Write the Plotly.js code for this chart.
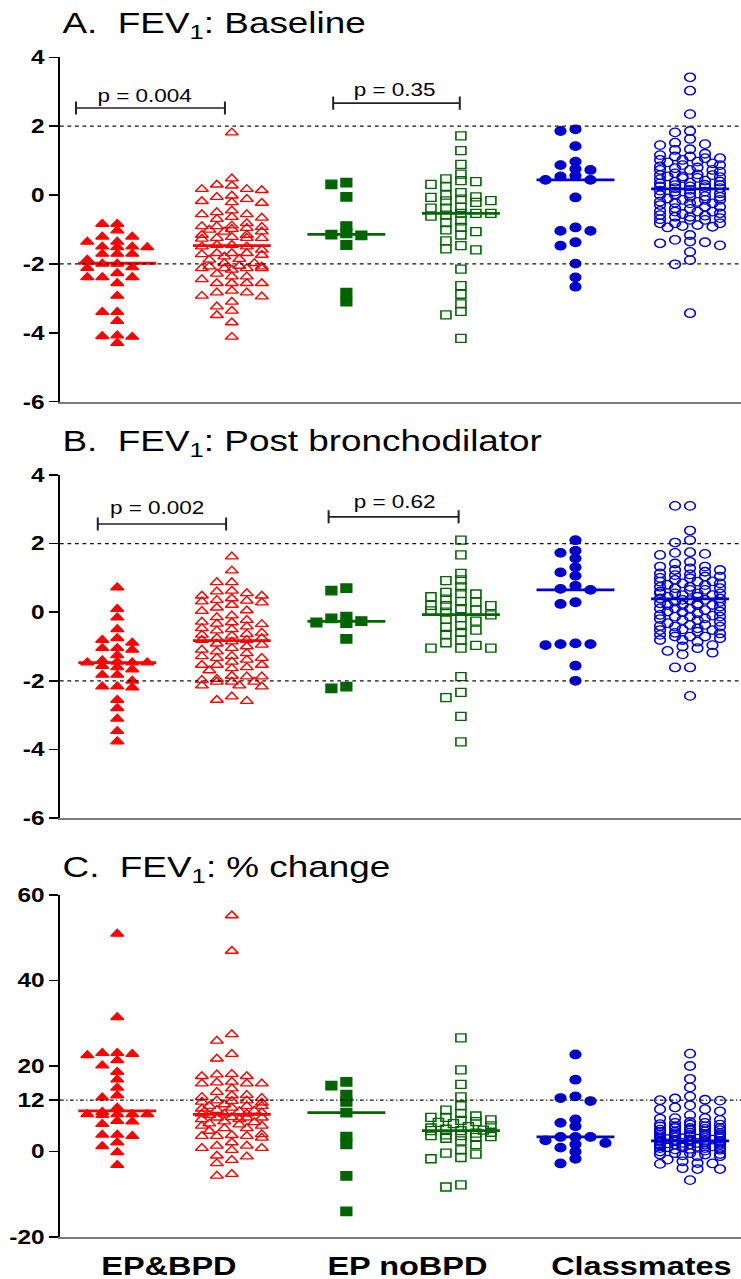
<!DOCTYPE html>
<html><head><meta charset="utf-8">
<script src="https://cdn.plot.ly/plotly-3.0.1.min.js"></script>
<style>
html,body{margin:0;padding:0;background:#fff;overflow:hidden;}
#chart{width:593px;height:1279px;transform:scaleX(1.2496);transform-origin:0 0;}
</style></head><body><div id="chart"></div>
<script>
// ---------------- DATA ----------------
const categories = ['EP&BPD', 'EP noBPD', 'Classmates'];
const panelTitles = ['A.  FEV<sub>1</sub>: Baseline', 'B.  FEV<sub>1</sub>: Post bronchodilator', 'C.  FEV<sub>1</sub>: % change'];
const tickValsAB = [-6, -4, -2, 0, 2, 4];
const tickTextAB = ['-6', '-4', '-2', '0', '2', '4'];
const tickValsC = [-20, 0, 12, 20, 40, 60];
const tickTextC = ['-20', '0', '12', '20', '40', '60'];

// Panel A: baseline z-scores
const baseBpdFilled = [-0.84,-0.84,-1.03,-1.21,-1.21,-1.36,-1.36,-1.52,-1.5,-1.5,-1.52,-1.71,-1.71,-1.71,-1.88,-2.0,-2.0,-2.12,-2.1,-2.27,-2.39,-2.39,-2.39,-2.56,-2.93,-3.4,-3.4,-3.66,-4.1,-4.12,-4.08,-4.3];
const baseBpdOpen = [0.27,-0.06,-0.56,-0.96,-1.27,-1.69,-2.13,-2.45,-2.83,
  -0.82,-1.07,-1.45,-2.06,-2.29,
  0.17,-0.18,-0.66,-1.01,-1.25,-1.69,-2.08,-2.56,-2.93,-3.1,-3.49,
  -0.5,-0.93,-1.25,-1.5,-1.88,-2.13,-2.37,
  1.81,0.48,0.14,-0.23,-0.70,-0.89,-1.16,-1.45,-1.69,-1.79,-1.98,-2.17,-2.56,-2.95,-3.36,-3.7,-4.12,
  -0.02,-0.45,-0.91,-1.16,-1.59,-1.86,-2.08,
  0.17,-0.21,-0.64,-1.06,-1.25,-1.74,-2.13,-2.56,-2.83,-3.24,
  -0.91,-1.5,-1.98,-2.37,
  0.3,-0.12,-0.56,-0.99,-1.22,-1.72,-2.13,-2.56,-2.78];
const baseNoBpdFilled = [0.31,0.36,-0.05,-0.9,-1.17,-1.11,-1.15,-1.45,-2.83,-3.09];
const baseNoBpdOpen = [1.72,1.29,0.89,0.61,0.42,0.47,0.31,0.25,0.39,0.0,0.07,-0.16,-0.12,-0.07,-0.05,-0.17,-0.21,-0.38,-0.38,-0.36,-0.53,-0.61,-0.53,-0.53,-0.58,-0.8,-0.75,-0.94,-1.06,-1.01,-1.16,-1.33,-1.47,-1.59,-1.56,-2.15,-2.63,-2.88,-3.16,-3.38,-3.48,-4.16];
const baseClassFilled = [1.86,1.91,1.42,0.97,0.76,0.87,0.73,0.56,0.44,0.44,0.54,-0.07,-1.04,-1.04,-0.94,-1.47,-1.37,-1.99,-2.39,-2.66];
const baseClassOpen = [1.63,0.87,0.54,0.39,0.23,-0.03,-0.19,-0.53,-0.63,-0.94,-1.35,
  1.07,0.73,0.49,0.13,-0.1,-0.34,-0.82,
  1.48,1.31,1.02,0.63,0.34,0.0,-0.24,-0.46,-0.72,-1.16,-1.4,-1.89,
  1.12,0.83,0.58,0.29,0.05,-0.14,-0.38,-0.63,-0.9,
  3.42,3.03,2.35,1.82,1.45,1.12,0.92,0.73,0.54,0.36,0.2,0.05,-0.14,-0.34,-0.55,-0.82,-1.3,-1.65,-2.01,-3.43,
  1.02,0.78,0.52,0.25,0.0,-0.24,-0.48,-0.87,
  1.86,1.52,1.16,0.87,0.58,0.29,-0.05,-0.29,-0.58,-0.82,-1.46,
  1.07,0.68,0.39,0.1,-0.14,-0.48,-0.72,
  1.33,0.97,0.73,0.46,0.2,-0.22,-0.48,-0.67,-0.92,-1.37,
  0.15,0.3,0.42,-0.05,0.6,0.8,0.95,-0.4,-0.7,0.1,0.25,0.5,-0.2,-0.6,1.2];
const medBaseline = [-1.98, -1.47, -1.14, -0.53, 0.44, 0.18];

// Panel B: post bronchodilator z-scores
const postBpdFilled = [0.72,0.09,-0.16,-0.5,-0.81,-0.76,-0.89,-1.05,-1.1,-1.05,-1.26,-1.45,-1.47,-1.47,-1.47,-1.41,-1.57,-1.67,-1.61,-1.83,-1.83,-2.0,-2.17,-2.2,-2.17,-2.56,-2.8,-3.11,-3.47,-3.77];
const postBpdOpen = [1.62,1.21,0.87,0.87,0.48,0.62,0.48,0.55,0.6,0.21,0.35,0.31,0.33,0.28,0.03,0.13,-0.3,-0.23,-0.28,-0.15,-0.34,-0.5,-0.47,-0.42,-0.66,-0.69,-0.64,-0.54,-0.76,-0.86,-0.81,-0.81,-0.76,-1.05,-1.1,-1.0,-0.92,-1.34,-1.39,-1.29,-1.34,-1.28,-1.61,-1.54,-1.54,-1.54,-1.64,-1.88,-1.86,-1.88,-2.03,-1.98,-2.03,-1.95,-2.03,-2.14,-2.17,-2.14,-2.46,-2.59,-2.56,
  -0.6,-0.95,-1.2,-1.45,-0.1,0.05,-1.7,-0.35,-1.15,0.4];
const postNoBpdFilled = [0.70,0.63,-0.18,-0.32,-0.26,-0.13,-0.78,-2.22,-2.17,-0.3];
const postNoBpdOpen = [2.1,1.67,1.13,0.94,0.92,0.74,0.58,0.53,0.55,0.38,0.45,0.31,0.2,0.19,0.19,0.04,0.06,-0.16,-0.08,-0.26,-0.39,-0.52,-0.59,-0.44,-0.81,-0.89,-1.05,-1.05,-1.05,-0.97,-1.88,-2.34,-2.49,-3.04,-3.78,0.0,-0.2,0.3,-0.65,0.1];
const postClassFilled = [2.1,1.79,1.73,1.57,1.31,1.16,1.06,0.77,0.65,0.68,0.29,0.24,-0.93,-0.96,-0.93,-0.91,-1.56,-2.0];
const postClassOpen = [1.33,0.84,0.55,0.26,-0.03,-0.37,-0.71,-1.0,
  1.42,1.04,0.7,0.4,0.11,-0.23,-0.52,-0.81,
  3.1,2.1,1.73,1.23,0.94,0.65,0.31,0.02,-0.28,-0.62,-1.13,-1.61,
  1.33,1.08,0.79,0.5,0.16,-0.13,-0.42,-0.71,-0.96,
  3.1,2.38,2.03,1.67,1.18,0.89,0.74,0.55,0.36,0.21,0.02,-0.13,-0.32,-0.52,-0.81,-1.23,-1.61,-2.44,
  1.28,0.99,0.65,0.36,0.06,-0.23,-0.57,-0.86,
  1.7,1.13,0.84,0.55,0.21,-0.08,-0.37,-0.66,-1.18,
  1.47,1.04,0.74,0.45,0.11,-0.18,-0.47,-0.76,
  1.75,1.23,0.89,0.55,0.21,-0.13,-0.42,-0.71,-1.05,
  0.4,0.6,0.3,0.0,0.8,-0.2,0.5,1.0,-0.4,0.2,0.7,0.1,-0.5,0.9,1.1,-0.1,0.45,0.35,-0.6,0.25];
const medPost = [-1.47, -0.83, -0.27, -0.07, 0.65, 0.39];

// Panel C: % change
const chgBpdFilled = [50.9,31.4,22.8,23.0,23.0,22.5,21.3,20.1,18.6,16.8,14.9,13.1,12.6,10.2,8.7,8.7,8.7,8.7,9.2,8.5,7.1,7.0,6.4,3.9,3.9,3.6,2.1,1.2,-0.2,-3.2];
const chgBpdOpen = [55.2,46.9,27.4,25.9,22.8,21.7,18.0,17.6,17.6,18.1,15.9,15.9,15.9,16.3,16.1,14.7,13.9,13.1,12.7,13.2,11.9,11.9,11.8,11.6,11.4,10.6,10.6,10.6,10.2,9.7,8.8,8.8,8.8,9.1,7.9,7.9,7.9,7.5,7.5,9.4,6.5,6.0,6.0,6.3,5.4,5.4,4.8,4.0,3.6,3.6,3.6,3.2,3.8,2.1,1.3,1.3,0.8,0.8,0.3,-1.0,-2.0,-2.8,-1.2,-5.7,-5.3,
  9.5,10.0,8.5,7.0,11.0,6.8,12.5,8.0];
const chgNoBpdFilled = [16.3,15.4,13.3,11.6,9.1,3.5,1.7,-5.7,-14.0];
const chgNoBpdOpen = [26.6,19.1,15.7,12.8,9.7,10.7,8.9,8.0,7.4,8.3,7.0,7.3,8.0,6.0,5.2,4.9,5.0,4.9,3.7,3.9,3.7,3.5,3.1,3.3,1.6,2.5,0.4,-0.4,-0.6,-1.4,-1.7,-8.3,-7.8,6.5,5.8,4.3,4.5,6.8,5.5];
const chgClassFilled = [22.7,16.8,12.9,12.5,11.8,6.7,7.5,5.9,2.0,3.4,2.6,3.4,3.4,0.9,-0.05,1.7,-1.7,-2.8];
const chgClassOpen = [22.9,20.0,17.0,15.0,12.1,11.9,12.9,12.0,12.4,10.8,9.9,9.4,10.3,9.9,8.5,
  7.8,6.7,5.5,4.3,3.1,2.0,0.8,-0.7,-2.9,
  5.9,3.9,1.6,-0.4,
  7.4,6.3,4.7,3.1,1.6,0.0,-1.9,-4.1,
  5.1,2.8,0.8,-1.1,
  7.8,6.9,5.9,4.7,3.5,2.5,1.6,0.4,-1.1,-2.3,-3.9,-6.7,
  6.3,4.3,2.0,-0.4,
  7.7,6.4,5.1,3.9,2.4,0.8,-0.9,-2.7,-4.1,
  5.9,3.5,1.4,-0.6,
  6.7,5.5,4.1,2.8,1.2,-0.7,-2.8,
  5.5,3.1,
  2.2,3.0,1.0,4.0,2.6,1.8,3.3,0.5,5.0,2.9,1.3,3.7,2.4,0.2,4.6,2.7,1.5,3.2,0.9,5.3,2.1,1.9,3.6,2.5,1.1,4.4,0.6,2.3,3.8,1.7];
const medChange = [9.5, 8.7, 9.1, 4.9, 3.4, 2.5];

const pTextBaseline = ['p = 0.004', 'p = 0.35'];
const pTextPost = ['p = 0.002', 'p = 0.62'];

// ---------------- STYLE / GEOMETRY ----------------
const FONT = 'Liberation Sans, Arial, Helvetica, sans-serif';
const FIG_W = 593, FIG_H = 1279, ML = 47.6;
const PLOT_W = FIG_W - ML;
const XR = [-0.5, 5.445];
const pxPerX = PLOT_W / (XR[1] - XR[0]);
const symbols = ['triangle-up','triangle-up-open','square','square-open','circle','circle-open'];
const colors = ['#ff0000','#ff0000','#006400','#006400','#0000cd','#0000cd'];
const sizes = [9, 9, 8.5, 8, 8.5, 8.5];

const panels = [
  {top:57.3, bot:401.7, range:[-6,4], tv:tickValsAB, tt:tickTextAB, ref:[2,-2], dash:'3px,3px',
   data:[baseBpdFilled,baseBpdOpen,baseNoBpdFilled,baseNoBpdOpen,baseClassFilled,baseClassOpen], med:medBaseline,
   titleY:24.5, brackets:[{x0:-0.36,x1:0.94,y:2.53,tx:0.24,ty:2.89,t:pTextBaseline[0]},{x0:1.885,x1:2.99,y:2.67,tx:2.42,ty:3.05,t:pTextBaseline[1]}], cap:0.19},
  {top:475, bot:818, range:[-6,4], tv:tickValsAB, tt:tickTextAB, ref:[2,-2], dash:'3px,3px',
   data:[postBpdFilled,postBpdOpen,postNoBpdFilled,postNoBpdOpen,postClassFilled,postClassOpen], med:medPost,
   titleY:442, brackets:[{x0:-0.17,x1:0.95,y:2.57,tx:0.35,ty:3.05,t:pTextPost[0]},{x0:1.845,x1:2.98,y:2.78,tx:2.42,ty:3.2,t:pTextPost[1]}], cap:0.19},
  {top:895, bot:1237, range:[-20,60], tv:tickValsC, tt:tickTextC, ref:[12], dash:'3px,2px,1px,2px',
   data:[chgBpdFilled,chgBpdOpen,chgNoBpdFilled,chgNoBpdOpen,chgClassFilled,chgClassOpen], med:medChange,
   titleY:868.5, brackets:[], cap:0}
];

function swarm(vals, pxPerY){
  const STEP=6, WX=11, HY=6.5, MAXK=4;
  const order=[0]; for(let k=1;k<=MAXK;k++) order.push(-k,k);
  const idx=vals.map((_,i)=>i).sort((a,b)=>vals[b]-vals[a]);
  const placed=[]; const ks=new Array(vals.length);
  for(const i of idx){
    const y=vals[i]*pxPerY;
    let best=0, bestScore=Infinity;
    for(const k of order){
      let s=0;
      for(const p of placed){
        const dx=Math.abs(k-p.k)*STEP, dy=Math.abs(y-p.y);
        if(dx<WX && dy<HY) s+=(WX-dx)*(HY-dy);
      }
      if(s===0){best=k;break;}
      if(s<bestScore-1e-9){bestScore=s;best=k;}
    }
    ks[i]=best; placed.push({k:best,y:y});
  }
  return ks.map(k=>k*STEP/pxPerX);
}

const traces=[], shapes=[], annotations=[];
const layout = {
  width:FIG_W, height:FIG_H, margin:{l:ML,r:0,t:0,b:0,pad:0},
  paper_bgcolor:'#fff', plot_bgcolor:'#fff', showlegend:false,
  font:{family:FONT,color:'#000'}
};

panels.forEach((P,pi)=>{
  const sfx = pi===0 ? '' : String(pi+1);
  const xa='x'+sfx, ya='y'+sfx;
  const dom=[1-P.bot/FIG_H, 1-P.top/FIG_H];
  const pxPerY=(P.bot-P.top)/(P.range[1]-P.range[0]);
  layout['xaxis'+sfx]={domain:[0,1], range:XR, anchor:ya, showline:true, linecolor:'#7a7a7a', linewidth:2,
    ticks:'', showticklabels:false, showgrid:false, zeroline:false, fixedrange:true};
  layout['yaxis'+sfx]={domain:dom, range:P.range, anchor:xa, tickvals:P.tv, ticktext:P.tt,
    showline:true, linecolor:'#000', linewidth:1.5, ticks:'outside', ticklen:7, tickwidth:1.5, tickcolor:'#000',
    tickfont:{family:FONT,size:19.5,color:'#000',weight:'bold'}, showgrid:false, zeroline:false, fixedrange:true};
  // reference lines
  P.ref.forEach(r=>shapes.push({type:'line', xref:xa+' domain', yref:ya, x0:0, x1:1, y0:r, y1:r,
    line:{color:'#111', width:1.2, dash:P.dash}}));
  // points
  P.data.forEach((vals,g)=>{
    const off=swarm(vals,pxPerY);
    traces.push({type:'scatter', mode:'markers', xaxis:xa, yaxis:ya,
      x:vals.map((v,i)=>g+off[i]), y:vals,
      marker:{symbol:symbols[g], size:sizes[g], color:colors[g], line:{color:colors[g], width:1.3}},
      hoverinfo:'skip'});
  });
  // medians
  P.med.forEach((m,g)=>{
    traces.push({type:'scatter', mode:'lines', xaxis:xa, yaxis:ya, x:[g-0.34,g+0.34], y:[m,m],
      line:{color:colors[g], width:2.8}, hoverinfo:'skip'});
  });
  // brackets
  P.brackets.forEach(b=>{
    const c=P.cap;
    shapes.push({type:'path', xref:xa, yref:ya,
      path:`M${b.x0},${b.y-c} L${b.x0},${b.y+c} M${b.x0},${b.y} L${b.x1},${b.y} M${b.x1},${b.y-c} L${b.x1},${b.y+c}`,
      line:{color:'#222', width:1.6}});
    annotations.push({xref:xa, yref:ya, x:b.tx, y:b.ty, text:b.t, showarrow:false, xanchor:'center', yanchor:'middle',
      font:{family:FONT,size:18,color:'#000'}});
  });
  // title
  annotations.push({xref:'paper', yref:'paper', x:0, y:1-P.titleY/FIG_H, xanchor:'left', yanchor:'middle',
    text:panelTitles[pi], showarrow:false, font:{family:FONT,size:29.5,color:'#000'}});
});

const catPos=[0.445, 2.53, 4.58];
categories.forEach((c,i)=>annotations.push({xref:'x3', yref:'paper', x:catPos[i], y:1-1266/FIG_H,
  xanchor:'center', yanchor:'middle', text:c, showarrow:false,
  font:{family:FONT,size:26,color:'#000',weight:'bold'}}));

layout.shapes=shapes; layout.annotations=annotations;
Plotly.newPlot('chart', traces, layout, {staticPlot:true, displayModeBar:false});
</script></body></html>
